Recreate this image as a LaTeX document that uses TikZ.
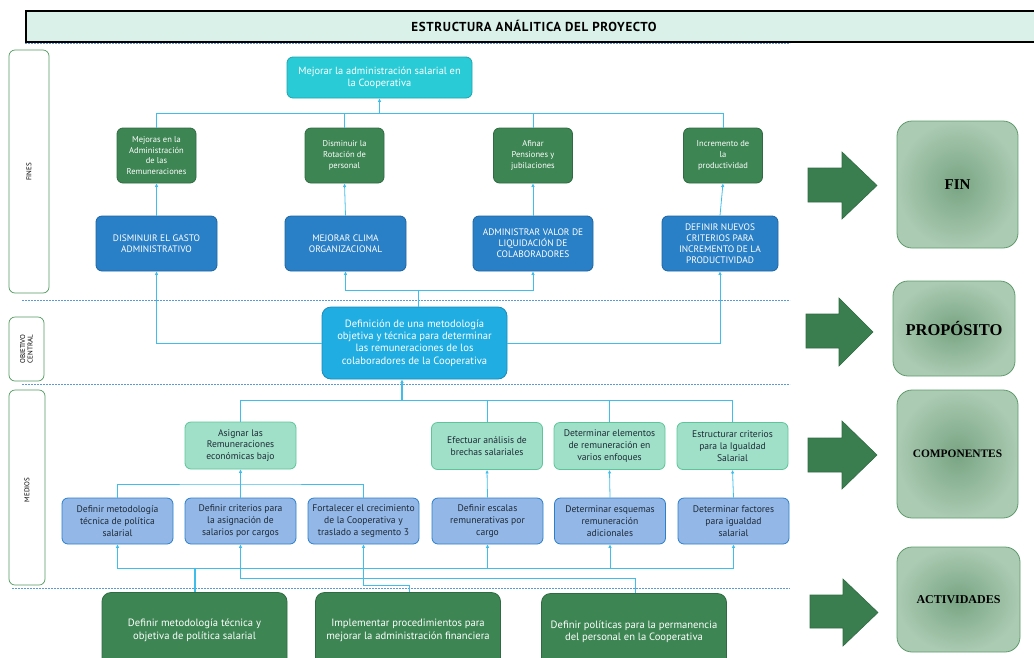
\documentclass[tikz,border=0pt]{standalone}
\usepackage{fontspec}
\setmainfont{PT Sans}
\newfontfamily\serifbold{Liberation Serif}
\usetikzlibrary{arrows.meta,shadings}
\definecolor{topcyan}{HTML}{29CCD6}
\definecolor{dgreen}{HTML}{3D8553}
\definecolor{dgreenb}{HTML}{2F6B42}
\definecolor{fblue}{HTML}{2A80C6}
\definecolor{fblueb}{HTML}{1F64A0}
\definecolor{cblue}{HTML}{1FADE2}
\definecolor{cblueb}{HTML}{1A8CBA}
\definecolor{mint}{HTML}{A0E0C8}
\definecolor{mintb}{HTML}{5CC59A}
\definecolor{lblue}{HTML}{93B7E6}
\definecolor{lblueb}{HTML}{2B7FCB}
\definecolor{conncol}{HTML}{3FBDEB}
\definecolor{dashcol}{HTML}{5B9BD5}
\definecolor{labcol}{HTML}{4E9A5E}
\definecolor{rinner}{HTML}{78A483}
\definecolor{router}{HTML}{ABCBB2}
\definecolor{rborder}{HTML}{5E9B6C}
\definecolor{titlefill}{HTML}{DAF1EA}
\definecolor{txtdark}{HTML}{1E2A36}
\tikzset{
  box/.style={rounded corners=6pt, inner sep=0pt, align=center, line width=0.8pt},
  topbox/.style={box, fill=topcyan, draw=topcyan!80!black, text=white, font=\fontsize{10.4}{12}\selectfont},
  finbox/.style={box, fill=dgreen, draw=dgreenb, text=white, font=\fontsize{8.5}{10.8}\selectfont, minimum width=79pt, minimum height=55pt},
  bluebox/.style={box, fill=fblue, draw=fblueb, text=white, font=\fontsize{9.4}{11}\selectfont, minimum height=55pt},
  cenbox/.style={box, rounded corners=9pt, fill=cblue, draw=cblueb, text=white, font=\fontsize{10.6}{12.3}\selectfont, minimum width=185pt, minimum height=72pt},
  mintbox/.style={box, fill=mint, draw=mintb, text=txtdark, font=\fontsize{9.6}{11.8}\selectfont, minimum width=111pt, minimum height=47pt},
  lbbox/.style={box, fill=lblue, draw=lblueb, text=txtdark, font=\fontsize{9.6}{11.8}\selectfont, minimum width=111pt, minimum height=46pt},
  actbox/.style={box, rounded corners=9pt, fill=dgreen, draw=dgreenb, text=white, font=\fontsize{10.6}{12.5}\selectfont, minimum width=185pt, minimum height=76pt},
  labbox/.style={draw=labcol, rounded corners=6pt, line width=0.7pt, inner sep=0pt},
  labtxt/.style={rotate=90, font=\fontsize{7}{7.5}\selectfont, align=center, inner sep=0pt},
  rbox/.style={rounded corners=15pt, draw=rborder, line width=0.8pt, inner color=rinner, outer color=router, inner sep=0pt, font=\serifbold\bfseries},
  bigarrow/.style={fill=dgreen!95!black, draw=dgreenb, line width=0.6pt},
  line/.style={draw=conncol, line width=0.8pt},
  arr/.style={line, -{Latex[length=3.5pt,width=3.5pt]}},
  sep/.style={draw=dashcol, line width=1pt, dash pattern=on 2pt off 1pt},
}
\begin{document}
\begin{tikzpicture}[x=1pt,y=-1pt]
\useasboundingbox (0,0) rectangle (1034,657);
% title
\node[draw=black, line width=1.6pt, fill=titlefill, minimum width=1020pt, minimum height=31pt, anchor=north west, inner sep=0pt] (title) at (25,10) {};
\node[font=\bfseries\fontsize{13}{14}\selectfont\addfontfeature{LetterSpace=5}] (titletxt) at (534,26) {ESTRUCTURA ANÁLITICA DEL PROYECTO};
% separators
\draw[sep] (25,43) -- (790,43);
\draw[sep] (22,300) -- (790,300);
\draw[sep] (22,384) -- (790,384);
\draw[sep] (12,588) -- (790,588);
% side labels
\node[labbox, minimum width=40pt, minimum height=243pt] (lfines) at (29,171.5) {};
\node[labtxt] (tfines) at (29,172) {FINES};
\node[labbox, minimum width=35pt, minimum height=64pt] (lobj) at (26.5,349) {};
\node[labtxt] (tobj) at (26.5,349) {OBJETIVO\\CENTRAL};
\node[labbox, minimum width=36pt, minimum height=195pt] (lmed) at (27,487.5) {};
\node[labtxt] (tmed) at (27,490) {MEDIOS};
% top
\node[topbox, minimum width=185pt, minimum height=41pt] (top) at (379.5,77.5) {Mejorar la administración salarial en\\la Cooperativa};
% fines green
\node[finbox] (g1) at (156.5,155.5) {Mejoras en la\\Administración\\de las\\Remuneraciones};
\node[finbox] (g2) at (344.5,155.5) {Disminuir la\\Rotación de\\personal};
\node[finbox] (g3) at (533,155.5) {Afinar\\Pensiones y\\jubilaciones};
\node[finbox] (g4) at (723,155.5) {Incremento de\\la\\productividad};
% blue
\node[bluebox, minimum width=121pt] (b1) at (156.5,243.5) {DISMINUIR EL GASTO\\ADMINISTRATIVO};
\node[bluebox, minimum width=121pt] (b2) at (345.5,243.5) {MEJORAR CLIMA\\ORGANIZACIONAL};
\node[bluebox, minimum width=120pt] (b3) at (533,243.5) {ADMINISTRAR VALOR DE\\LIQUIDACIÓN DE\\COLABORADORES};
\node[bluebox, minimum width=116pt] (b4) at (720,243.5) {DEFINIR NUEVOS\\CRITERIOS PARA\\INCREMENTO DE LA\\PRODUCTIVIDAD};
% central
\node[cenbox] (c) at (414.5,343) {Definición de una metodología\\objetiva y técnica para determinar\\las remuneraciones de los\\colaboradores de la Cooperativa};
% medios mint
\node[mintbox] (m1) at (240.5,445.5) {Asignar las\\Remuneraciones\\económicas bajo};
\node[mintbox] (m2) at (487,446) {Efectuar análisis de\\brechas salariales};
\node[mintbox] (m3) at (609.5,446) {Determinar elementos\\de remuneración en\\varios enfoques};
\node[mintbox] (m4) at (732.5,446) {Estructurar criterios\\para la Igualdad\\Salarial};
% medios light blue
\node[lbbox] (a1) at (117.5,521) {Definir metodología\\técnica de política\\salarial};
\node[lbbox] (a2) at (240.5,521) {Definir criterios para\\la asignación de\\salarios por cargos};
\node[lbbox] (a3) at (363.5,521) {Fortalecer el crecimiento\\de la Cooperativa y\\traslado a segmento 3};
\node[lbbox] (a4) at (487.5,521) {Definir escalas\\remunerativas por\\cargo};
\node[lbbox] (a5) at (610,521) {Determinar esquemas\\remuneración\\adicionales};
\node[lbbox] (a6) at (733.5,521) {Determinar factores\\para igualdad\\salarial};
% actividades
\node[actbox] (d1) at (194.5,630.5) {Definir metodología técnica y\\objetiva de política salarial};
\node[actbox] (d2) at (408,630.5) {Implementar procedimientos para\\mejorar la administración financiera};
\node[actbox] (d3) at (634,631.5) {Definir políticas para la permanencia\\del personal en la Cooperativa};
% right side boxes
\node[rbox, minimum width=121pt, minimum height=127pt, font=\serifbold\bfseries\fontsize{15}{16}\selectfont] (fin) at (957.5,184.5) {FIN};
\node[rbox, minimum width=122pt, minimum height=95pt, font=\serifbold\bfseries\fontsize{16.5}{18}\selectfont] (prop) at (954,328.5) {PROPÓSITO};
\node[rbox, minimum width=121pt, minimum height=128pt, font=\serifbold\bfseries\fontsize{11.4}{13}\selectfont] (comp) at (957.5,454) {COMPONENTES};
\node[rbox, minimum width=123pt, minimum height=105pt, font=\serifbold\bfseries\fontsize{12}{13}\selectfont] (act) at (958.5,599.5) {ACTIVIDADES};
% big arrows
\draw[bigarrow] (808,168) -- (842,168) -- (842,152) -- (877,185.5) -- (842,219) -- (842,202) -- (808,202) -- cycle;
\draw[bigarrow] (806,314) -- (839,314) -- (839,298) -- (873,332) -- (839,366) -- (839,348) -- (806,348) -- cycle;
\draw[bigarrow] (808,438) -- (842,438) -- (842,421) -- (877,455) -- (842,489) -- (842,472) -- (808,472) -- cycle;
\draw[bigarrow] (810,595) -- (843,595) -- (843,579) -- (878,612.5) -- (843,646) -- (843,628) -- (810,628) -- cycle;
% connectors: fines
\coordinate (jt) at (379.5,113);
\foreach \g in {g1,g2,g3,g4} { \draw[line] (\g.north) |- (jt); }
\draw[arr] (jt) -- (top.south);
\draw[arr] (b1.north) -- (g1.south);
\draw[arr] (b2.north) -- (g2.south);
\draw[arr] (b3.north) -- (g3.south);
\draw[arr] (b4.north) -- (g4.south);
% central to blue
\draw[arr] (c.west) -| (b1.south);
\draw[arr] (c.east) -| (b4.south);
\coordinate (jc) at (418,290);
\draw[line] (c.north -| jc) -- (jc);
\draw[arr] (jc) -| (b2.south);
\draw[arr] (jc) -| (b3.south);
% medios to central
\coordinate (jm) at (402,400);
\foreach \m in {m1,m2,m3,m4} { \draw[line] (\m.north) |- (jm); }
\draw[arr, line width=1.6pt] (jm) -- (c.south -| jm);
% light blue to mint
\coordinate (ja) at (240.5,484);
\draw[line] (a1.north) |- (ja) -| (a3.north);
\draw[line] (a2.north) -- (ja);
\draw[arr] (ja) -- (m1.south);
\draw[arr] (a4.north) -- (m2.south);
\draw[arr] (a5.north) -- (m3.south);
\draw[arr] (a6.north) -- (m4.south);
% actividades to light blue
\coordinate (jd1) at (195,568);
\draw[line, line width=1.2pt] (d1.north -| jd1) -- (jd1);
\foreach \a in {a1,a4,a5,a6} { \draw[arr] (jd1) -| (\a.south); }
\coordinate (jd3) at (635,578);
\draw[arr] (d3.north -| jd3) -- (jd3) -| (a2.south);
\coordinate (jd2) at (409,585);
\draw[arr] (d2.north -| jd2) -- (jd2) -| (a3.south);
\end{tikzpicture}
\end{document}
